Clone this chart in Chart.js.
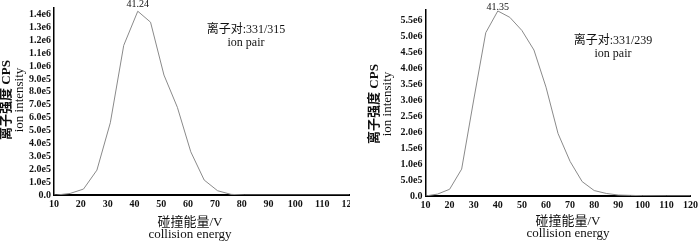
<!DOCTYPE html>
<html>
<head>
<meta charset="utf-8">
<script src="https://cdn.jsdelivr.net/npm/chart.js@4/dist/chart.umd.min.js"></script>
<style>
  html, body { margin: 0; padding: 0; background: #fff; }
  #wrap { position: relative; width: 700px; height: 241px; overflow: hidden; }
  canvas { position: absolute; top: 0; }
</style>
</head>
<body>
<div id="wrap">
  <canvas id="c1" width="350" height="241" style="left:0;width:350px;height:241px"></canvas>
  <canvas id="c2" width="350" height="241" style="left:350px;width:350px;height:241px"></canvas>
</div>
<script>
// ---- data ----
const xTicks = [10, 20, 30, 40, 50, 60, 70, 80, 90, 100, 110, 120];
const yTicksA = [0, 1e5, 2e5, 3e5, 4e5, 5e5, 6e5, 7e5, 8e5, 9e5, 1e6, 1.1e6, 1.2e6, 1.3e6, 1.4e6];
const yTicksB = [0, 5e5, 1e6, 1.5e6, 2e6, 2.5e6, 3e6, 3.5e6, 4e6, 4.5e6, 5e6, 5.5e6];

const energyA = [10, 11, 16, 21, 26, 31, 36, 41.24, 46, 51, 56, 61, 66, 71, 76, 81, 120];
const intensityA = [0, 0, 12000, 46000, 193000, 560000, 1160000, 1425000, 1340000, 930000, 680000, 335000, 116000, 33000, 5000, 0, 0];
const peakA = "41.24";
const pairA = "离子对:331/315";

const energyB = [10, 15, 20, 25, 30, 35, 40, 45, 50, 55, 60, 65, 70, 75, 80, 85, 90, 95, 100, 110, 120];
const intensityB = [0, 60000, 210000, 840000, 3000000, 5100000, 5780000, 5580000, 5170000, 4560000, 3400000, 1950000, 1080000, 450000, 170000, 80000, 30000, 20000, 10000, 5000, 5000];
const peakB = "41.35";
const pairB = "离子对:331/239";

const yLabelZh = "离子强度 CPS";
const yLabelEn = "ion intensity";
const xLabelZh = "碰撞能量/V";
const xLabelEn = "collision energy";
const pairEn = "ion pair";

// ---- helpers ----
function fmt(v) {
  if (v === 0) return "0.0";
  const e = Math.floor(Math.log10(v) + 1e-9);
  const m = v / Math.pow(10, e);
  return m.toFixed(1) + "e" + e;
}

function makeChart(id, xs, ys, yTicks, cfg) {
  const pts = xs.map((x, i) => ({ x: x, y: ys[i] }));
  const peakIdx = ys.indexOf(Math.max(...ys));
  const textPlugin = {
    id: 'texts',
    afterDraw(chart) {
      const ctx = chart.ctx;
      const meta = chart.getDatasetMeta(0);
      const pk = meta.data[peakIdx];
      ctx.save();
      ctx.fillStyle = '#111';
      ctx.textAlign = 'center';
      ctx.textBaseline = 'middle';
      ctx.font = '10px "Liberation Serif"';
      ctx.fillText(cfg.peak, pk.x, cfg.peakY);
      ctx.font = '12px "Liberation Serif", "Noto Sans CJK SC"';
      ctx.fillText(cfg.pair, cfg.pairX, cfg.pairY);
      ctx.fillText(pairEn, cfg.pairX, cfg.pairY + 13);
      ctx.font = '13px "Liberation Serif", "Noto Sans CJK SC"';
      ctx.fillText(xLabelZh, cfg.xtX, cfg.xtY);
      ctx.font = '13px "Liberation Serif"';
      ctx.fillText(xLabelEn, cfg.xtX, cfg.xtY + 12);
      ctx.translate(cfg.ytX, cfg.ytY);
      ctx.rotate(-Math.PI / 2);
      ctx.font = 'bold 13px "Liberation Serif", "Noto Sans CJK SC"';
      ctx.fillText(yLabelZh, 0, 0);
      ctx.font = '13px "Liberation Serif"';
      ctx.fillText(yLabelEn, 0, 13);
      ctx.restore();
    }
  };
  return new Chart(document.getElementById(id), {
    type: 'line',
    data: {
      datasets: [{
        data: pts,
        borderColor: '#8a8a8a',
        borderWidth: 1,
        pointRadius: 0,
        tension: 0,
        fill: false
      }]
    },
    options: {
      responsive: false,
      animation: false,
      devicePixelRatio: 1,
      plugins: { legend: { display: false }, tooltip: { enabled: false } },
      layout: { padding: { left: 0, right: cfg.padR, top: cfg.top, bottom: 0 } },
      scales: {
        x: {
          type: 'linear',
          min: 10, max: 120,
          afterBuildTicks(s) { s.ticks = xTicks.map(v => ({ value: v })); },
          afterFit(s) { s.height = cfg.xH; s.paddingLeft = 0; s.paddingRight = 0; },
          grid: { display: false, drawTicks: false, tickLength: 0 },
          border: { display: true, color: '#000', width: 2 },
          ticks: {
            color: '#111', padding: 3, maxRotation: 0, autoSkip: false,
            font: { family: 'Liberation Serif', size: 10, weight: 'bold' }
          }
        },
        y: {
          min: 0, max: cfg.yMax,
          afterBuildTicks(s) { s.ticks = yTicks.map(v => ({ value: v })); },
          afterFit(s) { s.width = cfg.yW; s.paddingTop = 0; s.paddingBottom = 0; },
          grid: { display: false, drawTicks: false, tickLength: 0 },
          border: { display: true, color: '#000', width: 1.5 },
          ticks: {
            autoSkip: false,
            color: '#111', padding: 3,
            font: { family: 'Liberation Serif', size: 10, weight: 'bold' },
            callback: v => fmt(v)
          }
        }
      }
    },
    plugins: [textPlugin]
  });
}

makeChart('c1', energyA, intensityA, yTicksA, {
  peak: peakA, peakY: 4, pair: pairA, pairX: 246, pairY: 30,
  xtX: 190, xtY: 223, ytX: 7, ytY: 100,
  padR: 1, top: 8, xH: 46, yW: 54, yMax: 1450000
});
makeChart('c2', energyB, intensityB, yTicksB, {
  peak: peakB, peakY: 7, pair: pairB, pairX: 263, pairY: 41,
  xtX: 218, xtY: 222, ytX: 25, ytY: 104,
  padR: 9.4, top: 10, xH: 45, yW: 75.5, yMax: 5810000
});
</script>
</body>
</html>
